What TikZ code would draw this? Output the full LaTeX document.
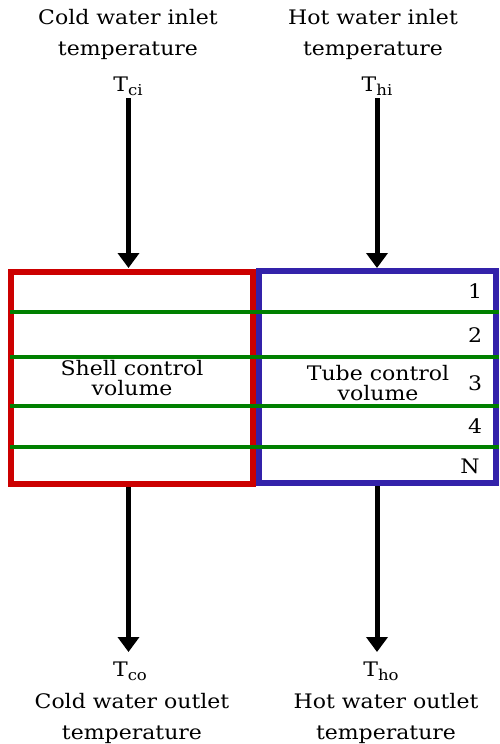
\documentclass[tikz,border=0pt]{standalone}
\usepackage{fontspec}
\setmainfont{DejaVu Serif}[FakeStretch=1.1]
\usetikzlibrary{arrows.meta}
\definecolor{shellred}{RGB}{204,0,0}
\definecolor{tubeblue}{RGB}{51,34,170}
\definecolor{divgreen}{RGB}{0,128,0}
\newcommand{\tsub}[1]{T\raisebox{-0.35ex}{\fontsize{15}{15}\selectfont #1}}
\begin{document}
\begin{tikzpicture}[x=1pt,y=-1pt,
  lbl/.style={inner sep=0pt,font=\fontsize{20}{31}\selectfont,align=center},
  inlbl/.style={inner sep=0pt,font=\fontsize{20}{20}\selectfont,align=center},
  num/.style={inner sep=0pt,font=\fontsize{20}{20}\selectfont},
  flow/.style={line width=5pt,-{Triangle[width=21pt,length=15pt]}},
  divider/.style={line width=4pt,divgreen}]
\useasboundingbox (0,0) rectangle (499,744);
% boxes
\draw[line width=6pt,shellred] (11,272) rectangle (253,484);
\draw[line width=6pt,tubeblue] (259,271) rectangle (496,483);
% dividers
\foreach \yy in {312,357,406,447} \draw[divider] (10,\yy) -- (499,\yy);
% labels inside
\node[inlbl] (shell) at (132,378) {Shell control\\volume};
\node[inlbl] (tube) at (378,383) {Tube control\\volume};
\node[num] (n1) at (475,291) {1};
\node[num] (n2) at (475,335) {2};
\node[num] (n3) at (475,383) {3};
\node[num] (n4) at (475,426) {4};
\node[num] (nN) at (470,466) {N};
% top labels
\node[lbl] (cin) at (128,34) {Cold water inlet\\temperature};
\node[lbl] (hin) at (373,34) {Hot water inlet\\temperature};
\node[lbl] (tci) at (128,86) {\tsub{ci}};
\node[lbl] (thi) at (377,86) {\tsub{hi}};
% bottom labels
\node[lbl] (tco) at (130,671) {\tsub{co}};
\node[lbl] (tho) at (381,671) {\tsub{ho}};
\node[lbl] (cout) at (132,718) {Cold water outlet\\temperature};
\node[lbl] (hout) at (386,718) {Hot water outlet\\temperature};
% connector points
\coordinate (sTop) at (128.5,98);
\coordinate (sIn) at (128.5,268);
\coordinate (hTop) at (377,98);
\coordinate (hIn) at (377,268);
\coordinate (sOut) at (128.5,487);
\coordinate (sEnd) at (128.5,652);
\coordinate (hOut) at (377,486);
\coordinate (hEnd) at (377,652);
\draw[flow] (sTop) -- (sIn);
\draw[flow] (hTop) -- (hIn);
\draw[flow] (sOut) -- (sEnd);
\draw[flow] (hOut) -- (hEnd);
\end{tikzpicture}
\end{document}
